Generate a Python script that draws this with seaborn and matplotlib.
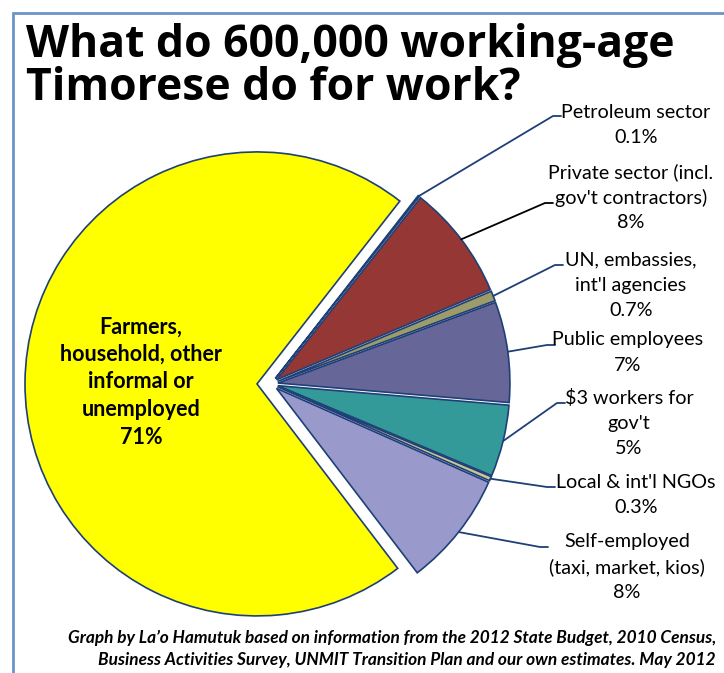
import numpy as np
import seaborn as sns
import matplotlib.pyplot as plt
from matplotlib.patches import Rectangle

# Slice data, clockwise from the top of the right-hand group
sectors = ["Petroleum sector", "Private sector (incl.\ngov't contractors)",
           "UN, embassies,\nint'l agencies", "Public employees",
           "$3 workers for\ngov't", "Local & int'l NGOs",
           "Self-employed\n(taxi, market, kios)",
           "Farmers,\nhousehold, other\ninformal or\nunemployed"]
shares = [0.1, 8, 0.7, 7, 5, 0.3, 8, 71]
pct_labels = ["0.1%", "8%", "0.7%", "7%", "5%", "0.3%", "8%", "71%"]
colors = ["#1F497D", "#953735", "#9C9C6B", "#666699",
          "#339999", "#C8C896", "#9999CC", "#FFFF00"]

sns.set_theme(style="white")
plt.rcParams["text.color"] = "black"
W, H = 724, 673
fig = plt.figure(figsize=(W / 100, H / 100), dpi=100)
ax = fig.add_axes([0, 0, 1, 1])

cx, cy, R = 271, H - 384, 232
# explode is in data units (pixels here)
explode = [7] * 7 + [14]
wedges, _ = ax.pie(shares, colors=colors, startangle=52, counterclock=False,
                   radius=R, center=(cx, cy), explode=explode,
                   wedgeprops=dict(edgecolor="#1F3F77", linewidth=1.2))
ax.set_xlim(0, W)
ax.set_ylim(0, H)
ax.set_aspect("equal")
ax.axis("off")

# frame
ax.add_patch(Rectangle((13, -20), W + 20, H - 13 + 20, fill=False,
                       edgecolor="#6E93C8", linewidth=2))

# title
for txt, y in [("What do 600,000 working-age", 45), ("Timorese do for work?", 88)]:
    ax.text(26, H - y, txt, fontsize=32, fontweight="bold", family="Open Sans",
            va="center", ha="left")

# label placement: text centre x, first line y, elbow x, elbow y (pixels)
label_pos = [(636, 112, 553, 116), (631, 172, 545, 203), (631, 260, 555, 265),
             (628, 340, 547, 345), (629, 398, 557, 403), (636, 482, 547, 487),
             (627, 542, 540, 547)]
line_cols = ["#1F3F77", "black", "#1F3F77", "#1F3F77", "#1F3F77",
             "#1F3F77", "#1F3F77"]
step = 25.5
font = "Lato"

for i, (tx, ty, ex, ey) in enumerate(label_pos):
    w = wedges[i]
    mid = np.deg2rad((w.theta1 + w.theta2) / 2)
    px = w.center[0] + w.r * np.cos(mid)
    py = w.center[1] + w.r * np.sin(mid)
    ax.plot([px, ex, ex + 8], [py, H - ey, H - ey], color=line_cols[i], lw=1.3)
    lines = sectors[i].split("\n") + [pct_labels[i]]
    for k, s in enumerate(lines):
        ax.text(tx, H - (ty + k * step), s, fontsize=14.2, family=font,
                ha="center", va="center")

# inside label for the big slice
inner = sectors[-1].split("\n") + [pct_labels[-1]]
for k, s in enumerate(inner):
    ax.text(141, H - (327 + k * 27.5), s, fontsize=15.5, family=font,
            fontweight="bold", ha="center", va="center")

# footer
ax.text(716, H - 638, "Graph by La\u2019o Hamutuk based on information from the 2012 State Budget, 2010 Census,",
        fontsize=12.4, family=font, style="italic", fontweight="bold", ha="right", va="center")
ax.text(716, H - 660, "Business Activities Survey, UNMIT Transition Plan and our own estimates. May 2012",
        fontsize=12.4, family=font, style="italic", fontweight="bold", ha="right", va="center")

fig.savefig("out.png", dpi=100)
